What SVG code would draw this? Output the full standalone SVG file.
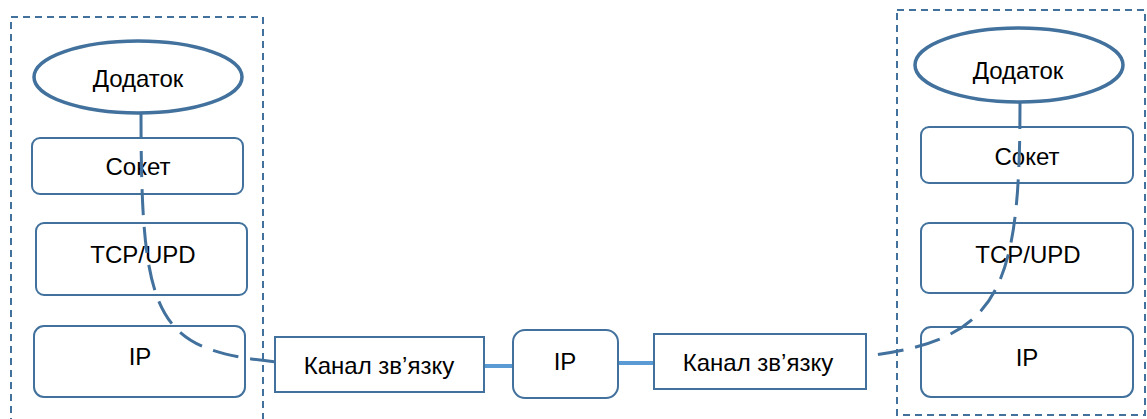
<svg xmlns="http://www.w3.org/2000/svg" width="1147" height="419" viewBox="0 0 1147 419">
<style>
.frame{fill:none;stroke:#41719C;stroke-width:2;stroke-dasharray:7 5}
.box{fill:#fff;stroke:#41719C;stroke-width:2}
.ell{fill:#fff;stroke:#41719C;stroke-width:3.5}
.t{font-family:"Liberation Sans",Arial,sans-serif;font-size:24px;fill:#000;text-anchor:middle}
.dash{fill:none;stroke:#41719C;stroke-width:3;stroke-dasharray:26 12}
.link{fill:none;stroke:#5B9BD5;stroke-width:4}
</style>
<rect width="1147" height="419" fill="#fff"/>
<g id="frames">
<rect class="frame" x="11" y="17" width="252" height="420"/>
<rect class="frame" x="897" y="10" width="248" height="405"/>
</g>
<g id="left-app"><ellipse class="ell" cx="138" cy="77" rx="104" ry="36"/><text class="t" x="138" y="87">Додаток</text></g>
<g id="left-socket"><rect class="box" x="32" y="138" width="211" height="56" rx="8"/><text class="t" x="138" y="175">Сокет</text></g>
<g id="left-tcp"><rect class="box" x="36" y="223" width="211" height="72" rx="8"/><text class="t" x="143" y="263">TCP/UPD</text></g>
<g id="left-ip"><rect class="box" x="34" y="326" width="211" height="71" rx="10"/><text class="t" x="140" y="365">IP</text></g>
<g id="right-app"><ellipse class="ell" cx="1019" cy="65" rx="104" ry="37"/><text class="t" x="1018" y="79">Додаток</text></g>
<g id="right-socket"><rect class="box" x="921" y="127" width="212" height="56" rx="8"/><text class="t" x="1027" y="165">Сокет</text></g>
<g id="right-tcp"><rect class="box" x="921" y="223" width="212" height="70" rx="8"/><text class="t" x="1028" y="263">TCP/UPD</text></g>
<g id="right-ip"><rect class="box" x="921" y="327" width="212" height="70" rx="10"/><text class="t" x="1027" y="366">IP</text></g>
<g id="connectors">
<path class="dash" d="M141,113 C141,320 155,350 277,362"/>
<path class="dash" d="M1020,103 C1020,290 1000,340 866,356"/>
<line class="link" x1="484" y1="366" x2="513" y2="366"/>
<line class="link" x1="618" y1="363" x2="654" y2="363"/>
</g>
<g id="channel-left"><rect class="box" x="275" y="337" width="209" height="55"/><text class="t" x="379" y="374">Канал зв’язку</text></g>
<g id="ip-mid"><rect class="box" x="513" y="330" width="105" height="68" rx="12"/><text class="t" x="565" y="370">IP</text></g>
<g id="channel-right"><rect class="box" x="654" y="334" width="212" height="55"/><text class="t" x="758" y="371">Канал зв’язку</text></g>
</svg>
